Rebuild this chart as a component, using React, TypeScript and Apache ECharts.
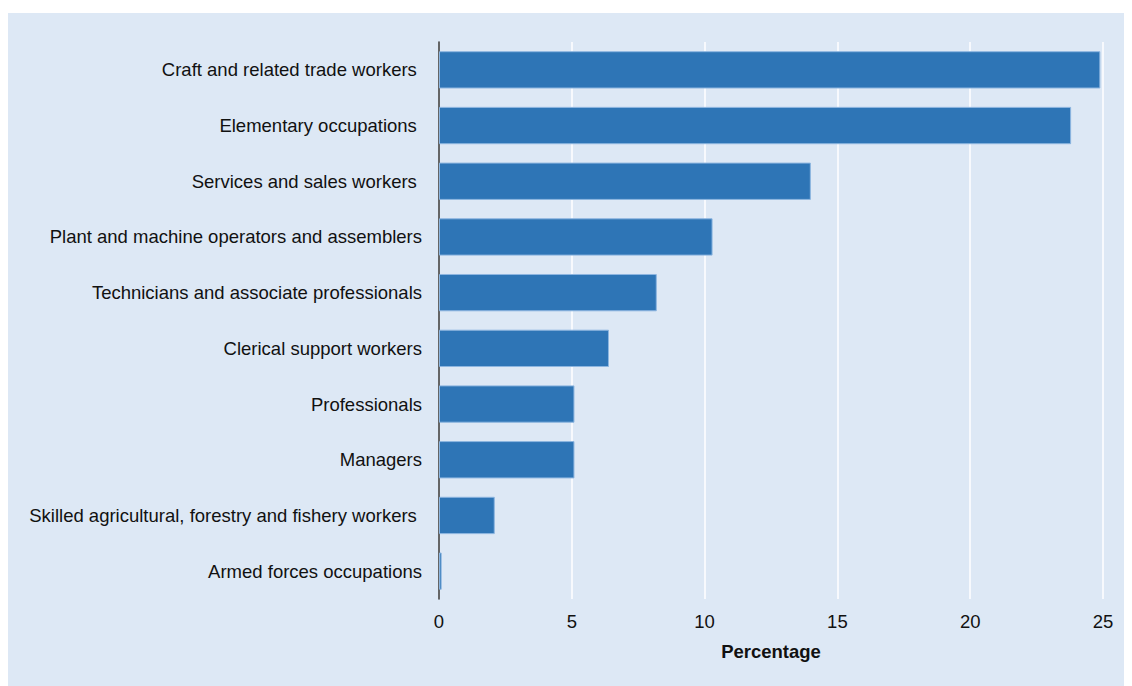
import React, { useEffect, useRef } from "react";
import * as echarts from "echarts";

const categories = [
  "Craft and related trade workers ",
  "Elementary occupations ",
  "Services and sales workers ",
  "Plant and machine operators and assemblers",
  "Technicians and associate professionals",
  "Clerical support workers",
  "Professionals",
  "Managers",
  "Skilled agricultural, forestry and fishery workers ",
  "Armed forces occupations",
];
const values = [24.9, 23.8, 14.0, 10.3, 8.2, 6.4, 5.1, 5.1, 2.1, 0.1];
const xTicks = [0, 5, 10, 15, 20, 25];
const xAxisName = "Percentage";

export default function App() {
  const ref = useRef<HTMLDivElement>(null);
  useEffect(() => {
    if (!ref.current) return;
    const chart = echarts.init(ref.current, undefined, { renderer: "svg" });
    chart.setOption({
      animation: false,
      backgroundColor: "#dde8f5",
      textStyle: { fontFamily: "Liberation Sans, Arial, sans-serif" },
      grid: { left: 431, right: 29, top: 29, bottom: 87, containLabel: false },
      xAxis: {
        type: "value",
        min: xTicks[0],
        max: xTicks[xTicks.length - 1],
        interval: 5,
        name: xAxisName,
        nameLocation: "middle",
        nameGap: 43,
        nameTextStyle: { fontWeight: "bold", fontSize: 18.5, color: "#111" },
        axisLine: { show: false },
        axisTick: { show: false },
        axisLabel: { fontSize: 18.5, color: "#111", margin: 13 },
        splitLine: { show: true, lineStyle: { color: "#ffffff", width: 1.5 } },
      },
      yAxis: {
        type: "category",
        data: categories,
        inverse: true,
        axisLine: { show: true, lineStyle: { color: "#333", width: 1.5 } },
        axisTick: { show: false },
        axisLabel: { fontSize: 18.5, color: "#111", margin: 17 },
        splitLine: { show: false },
      },
      series: [
        {
          type: "bar",
          data: values,
          barCategoryGap: "33%",
          itemStyle: { color: "#2e75b6", borderColor: "#8db6e0", borderWidth: 1 },
        },
      ],
    });
    return () => chart.dispose();
  }, []);
  return (
    <div style={{ paddingTop: 5 }}>
      <div ref={ref} style={{ width: 1124, height: 673 }} />
    </div>
  );
}
